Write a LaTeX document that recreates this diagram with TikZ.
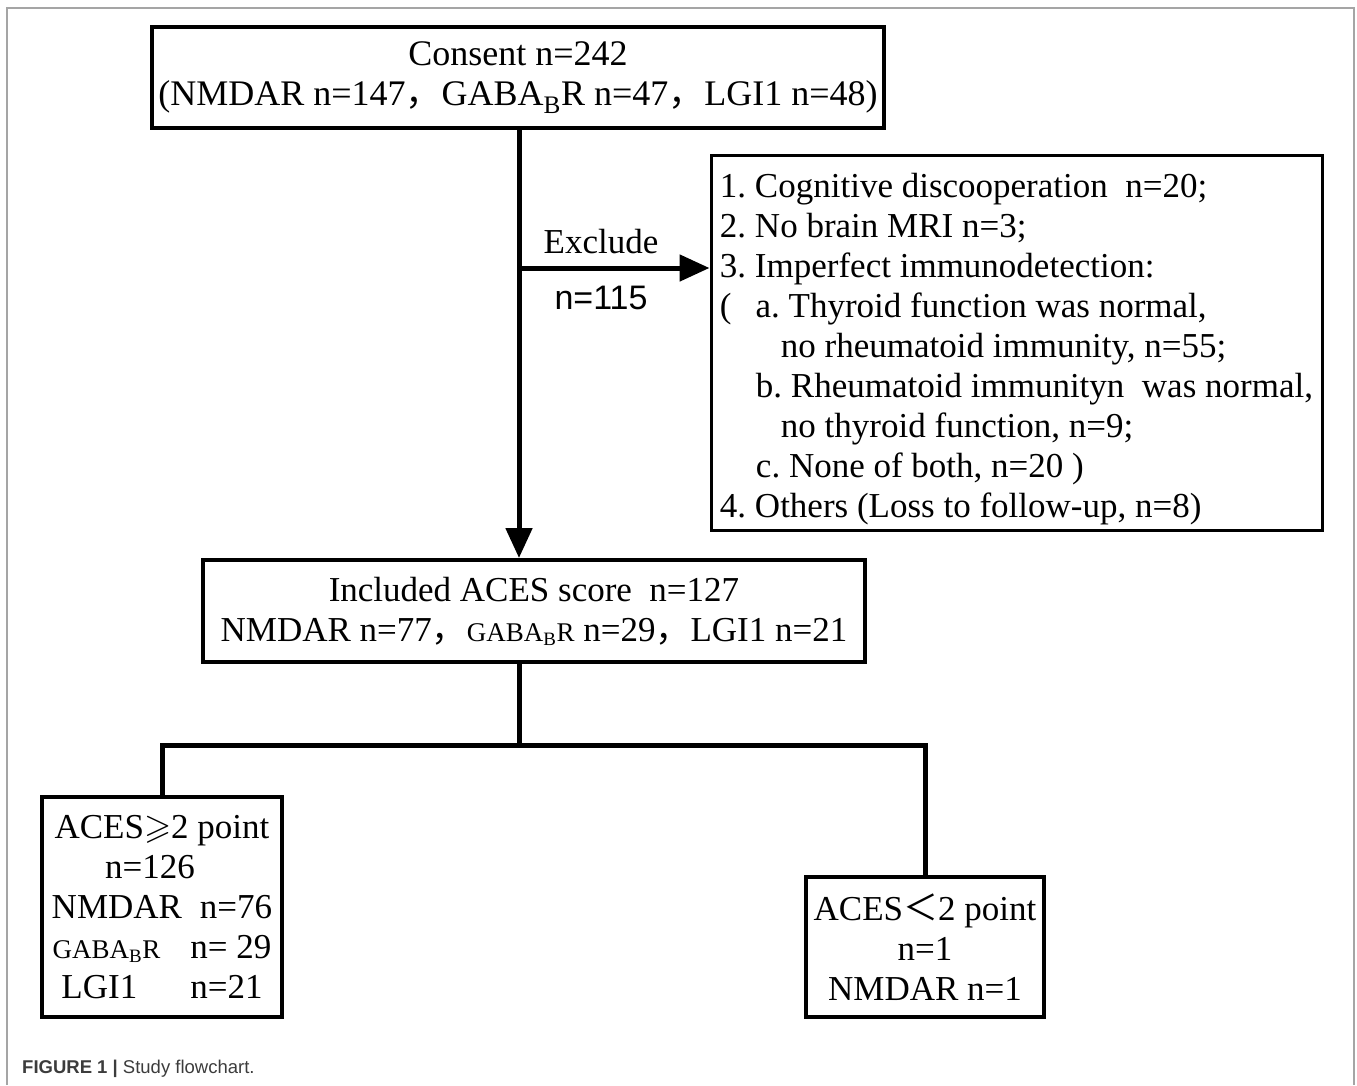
\documentclass[tikz,border=0pt]{standalone}
\usepackage{amssymb}
\usepackage{fontspec}
\setmainfont{Liberation Serif}
\setsansfont{Liberation Sans}
\newfontfamily\cjk{Noto Sans CJK SC}
\usetikzlibrary{arrows.meta}
\frenchspacing

\definecolor{framegray}{RGB}{165,165,165}
\definecolor{captiongray}{RGB}{60,60,60}

\tikzset{
  flowbox/.style={draw, line width=4pt, inner sep=0pt, align=center,
    font=\fontsize{35}{40}\selectfont},
  link/.style={line width=5pt},
}
\newcommand{\gabab}{GABA\textsubscript{B}R}
\newcommand{\smallgabab}{{\fontsize{27}{40}\selectfont\gabab}}
\newcommand{\wcomma}{{\cjk ，}}

\begin{document}
\begin{tikzpicture}[x=1pt, y=-1pt, >={Triangle[length=30pt,width=26pt]}]
  \useasboundingbox (0,0) rectangle (1357,1085);
  \draw[framegray, line width=1.5pt] (7,1085) -- (7,8) -- (1354,8) -- (1354,1085);
  % boxes
  \node[flowbox, minimum width=732pt, minimum height=101pt,
    font=\fontsize{36}{40}\selectfont] (consent) at (518,77.5)
    {Consent n=242\\(NMDAR n=147\wcomma\gabab{} n=47\wcomma LGI1 n=48)};
  \node[flowbox, line width=3pt, minimum width=611pt, minimum height=375pt,
    align=left] (reasons) at (1016.5,342.5)
    {\rule{0pt}{37pt}1. Cognitive discooperation\ \ n=20;\\
     2. No brain MRI n=3;\\
     3. Imperfect immunodetection:\\
     (\hspace*{24pt}a. Thyroid function was normal,\\
     \hspace*{61pt}no rheumatoid immunity, n=55;\\
     \hspace*{36pt}b. Rheumatoid immunityn\ \ was normal,\\
     \hspace*{61pt}no thyroid function, n=9;\\
     \hspace*{36pt}c. None of both, n=20\ )\\
     4. Others (Loss to follow-up, n=8)};
  \node[flowbox, minimum width=662pt, minimum height=102pt] (included) at (534,611)
    {Included ACES score\ \ n=127\\NMDAR n=77\wcomma\smallgabab{} n=29\wcomma LGI1 n=21};
  \node[flowbox, minimum width=240pt, minimum height=220pt] (high) at (162,907)
    {ACES$\geqslant$2 point\\n=126\rule{24pt}{0pt}\\NMDAR\hspace{18pt}n=76\\
     \smallgabab\hspace{30pt}n=\ 29\\LGI1\hspace{53pt}n=21};
  \node[flowbox, minimum width=238pt, minimum height=140pt] (low) at (925,947)
    {ACES{\cjk ＜}2 point\\n=1\\NMDAR n=1};
  % connectors
  \coordinate (split) at (519,268);
  \coordinate (fork) at (519,745);
  \draw[link, ->] (consent.south -| split) -- (split |- included.north);
  \draw[link, ->] (split) -- (split -| reasons.west);
  \node[font=\fontsize{35}{40}\selectfont] (exclude) at (601,242) {Exclude};
  \node[font=\sffamily\fontsize{34}{40}\selectfont] (excluden) at (601,298) {n=115};
  \draw[link] (fork |- included.south) -- (fork);
  \draw[link] (high.north) |- (fork) -| (low.north);
  % caption
  \node[anchor=base west, inner sep=0pt, text=captiongray,
    font=\sffamily\fontsize{18.5}{22}\selectfont] (caption) at (22,1073)
    {\textbf{FIGURE 1 |} Study flowchart.};
\end{tikzpicture}
\end{document}
